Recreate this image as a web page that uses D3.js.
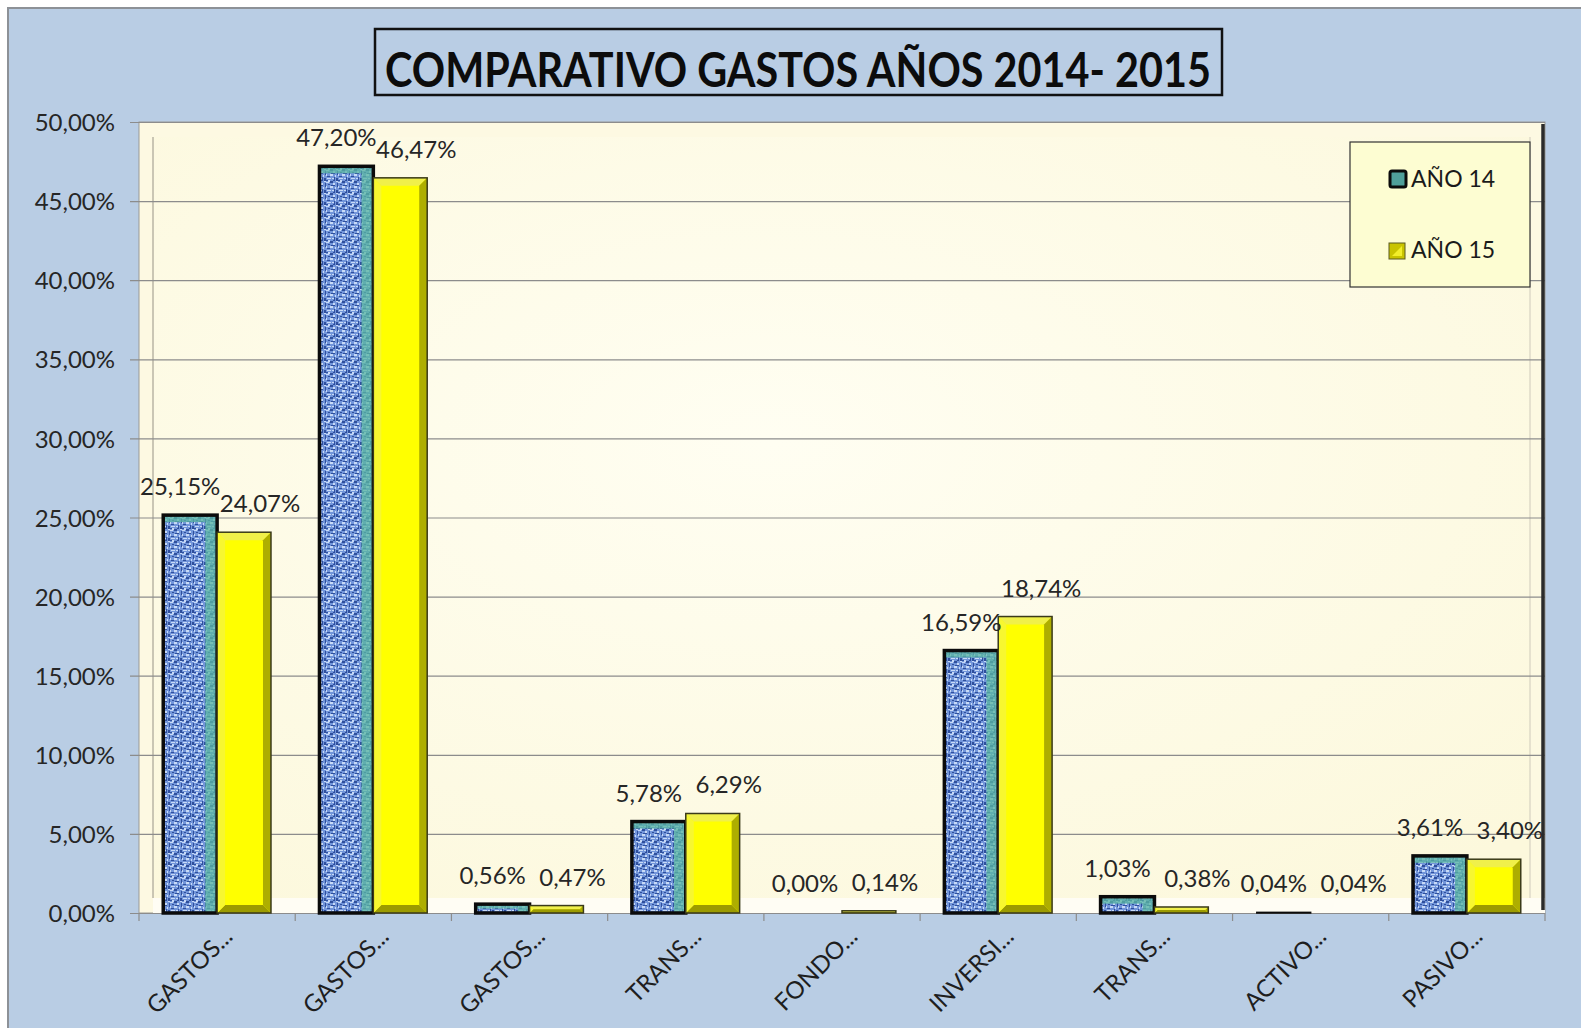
<!DOCTYPE html>
<html>
<head>
<meta charset="utf-8">
<script src="https://cdn.jsdelivr.net/npm/d3@7"></script>
<style>
  html, body { margin: 0; padding: 0; background: #ffffff; }
  svg text { font-family: Lato, "Open Sans", sans-serif; }
</style>
</head>
<body>
<div id="chart"></div>
<script>
// data
const categories = ["GASTOS...", "GASTOS...", "GASTOS...", "TRANS...", "FONDO...", "INVERSI...", "TRANS...", "ACTIVO...", "PASIVO..."];
const seriesNames = ["AÑO 14", "AÑO 15"];
const ano14 = [25.15, 47.20, 0.56, 5.78, 0.00, 16.59, 1.03, 0.04, 3.61];
const ano15 = [24.07, 46.47, 0.47, 6.29, 0.14, 18.74, 0.38, 0.04, 3.40];
const yTicks = [0, 5, 10, 15, 20, 25, 30, 35, 40, 45, 50];
const title = "COMPARATIVO GASTOS AÑOS 2014- 2015";

const W = 1581, H = 1028;
const plot = { left: 139, right: 1545, top: 122, bottom: 913 };

const svg = d3.select("#chart").append("svg")
    .attr("width", W)
    .attr("height", H);

const defs = svg.append("defs");

// blue "cloth" texture for the 2014 bars
const pat = defs.append("pattern")
    .attr("id", "cloth")
    .attr("width", 12).attr("height", 12)
    .attr("patternUnits", "userSpaceOnUse");
pat.append("rect").attr("width", 12).attr("height", 12).attr("fill", "#7295da");
[[0,0,4,1],[6,1,3,2],[1,3,1,4],[7,5,4,1],[3,8,3,1],[0,10,2,2],[10,9,1,3],[4,4,2,1],[9,0,2,1]].forEach(r => {
    pat.append("rect").attr("x", r[0]).attr("y", r[1]).attr("width", r[2]).attr("height", r[3]).attr("fill", "#2f4f9c");
});
[[4,0,2,2],[0,1,2,1],[2,2,3,1],[9,3,2,2],[6,6,3,2],[2,6,1,2],[3,10,4,1],[11,7,1,2],[8,10,2,1]].forEach(r => {
    pat.append("rect").attr("x", r[0]).attr("y", r[1]).attr("width", r[2]).attr("height", r[3]).attr("fill", "#c8daf6");
});

const wallGrad = defs.append("radialGradient")
    .attr("id", "wall").attr("cx", "45%").attr("cy", "40%").attr("r", "75%");
wallGrad.append("stop").attr("offset", "0%").attr("stop-color", "#fffef2");
wallGrad.append("stop").attr("offset", "100%").attr("stop-color", "#fcf8dc");

// chart area background
svg.append("rect")
    .attr("x", 8).attr("y", 8)
    .attr("width", W + 20).attr("height", H + 20)
    .attr("fill", "#b9cde4")
    .attr("stroke", "#8d9197")
    .attr("stroke-width", 2);

// scales
const x = d3.scaleBand()
    .domain(d3.range(categories.length))
    .range([plot.left, plot.right])
    .padding(0);

const xs = d3.scaleBand()
    .domain(seriesNames)
    .range([0, x.step()])
    .paddingInner(0)
    .paddingOuter(0.45);

const y = d3.scaleLinear()
    .domain([0, 50])
    .range([plot.bottom, plot.top]);

// plot area with 3d walls
svg.append("rect")
    .attr("x", plot.left).attr("y", plot.top)
    .attr("width", plot.right - plot.left).attr("height", plot.bottom - plot.top)
    .attr("fill", "#fdf9e2")
    .attr("stroke", "#9a9a96")
    .attr("stroke-width", 1);
svg.append("rect")
    .attr("x", 153).attr("y", 137)
    .attr("width", 1530 - 153).attr("height", 898 - 137)
    .attr("fill", "url(#wall)");
svg.append("rect")
    .attr("x", 153).attr("y", 898)
    .attr("width", plot.right - 153).attr("height", plot.bottom - 898)
    .attr("fill", "#fffdf4");
svg.append("line")
    .attr("x1", 153).attr("x2", 153).attr("y1", 137).attr("y2", 898)
    .attr("stroke", "#b8b4a4").attr("stroke-width", 1.5);
svg.append("line")
    .attr("x1", 1530).attr("x2", 1530).attr("y1", 137).attr("y2", 898)
    .attr("stroke", "#cfcabb").attr("stroke-width", 1);

// y axis + gridlines
const yAxis = svg.append("g")
    .attr("transform", "translate(130,0)")
    .call(d3.axisLeft(y)
        .tickValues(yTicks)
        .tickSize(-(plot.right - 130))
        .tickPadding(15)
        .tickFormat(d => d.toFixed(2).replace(".", ",") + "%"));
yAxis.select(".domain").remove();
yAxis.selectAll(".tick line").attr("stroke", "#8c8c8c").attr("stroke-width", 1.2);
yAxis.selectAll(".tick text")
    .attr("fill", "#262626")
    .attr("font-size", 24)
    .attr("dy", "0.36em");

// dark right edge of the wall
svg.append("line")
    .attr("x1", plot.right - 2).attr("x2", plot.right - 2)
    .attr("y1", plot.top + 2).attr("y2", plot.bottom - 3)
    .attr("stroke", "#2b2b2b").attr("stroke-width", 3.5);

// category tick marks under the floor
svg.append("g").selectAll("line")
    .data(d3.range(categories.length + 1))
    .join("line")
    .attr("x1", i => plot.left + i * x.step())
    .attr("x2", i => plot.left + i * x.step())
    .attr("y1", plot.bottom).attr("y2", plot.bottom + 8)
    .attr("stroke", "#8c8c8c").attr("stroke-width", 1.2);

// bars
const rows = categories.map((c, i) => ({ i, v14: ano14[i], v15: ano15[i] }));

const g14 = svg.append("g");
rows.forEach(r => {
    const bx = x(r.i) + xs("AÑO 14");
    const bw = xs.bandwidth();
    const by = y(r.v14);
    const bh = y(0) - by;
    if (bh < 0.3) return;
    g14.append("rect").attr("x", bx).attr("y", by).attr("width", bw).attr("height", bh)
        .attr("fill", "url(#cloth)");
    const side = Math.min(12, bw * 0.22);
    const topS = Math.min(7, bh * 0.5);
    g14.append("rect").attr("x", bx + bw - side).attr("y", by).attr("width", side).attr("height", bh)
        .attr("fill", "#5bb7a0").attr("opacity", 0.75);
    g14.append("rect").attr("x", bx).attr("y", by).attr("width", bw - side).attr("height", topS)
        .attr("fill", "#5bb7a0").attr("opacity", 0.75);
    g14.append("rect").attr("x", bx).attr("y", by).attr("width", bw).attr("height", bh)
        .attr("fill", "none").attr("stroke", "#0b0b0b").attr("stroke-width", Math.min(3.5, Math.max(1.5, bh)));
});

const g15 = svg.append("g");
rows.forEach(r => {
    const bx = x(r.i) + xs("AÑO 15");
    const bw = xs.bandwidth();
    const by = y(r.v15);
    const bh = y(0) - by;
    if (bh < 0.8) return;
    const b = Math.min(8, bh / 2);
    g15.append("rect").attr("x", bx).attr("y", by).attr("width", bw).attr("height", bh)
        .attr("fill", "#ffff00");
    const pts = [
        [[bx, by], [bx + bw, by], [bx + bw - b, by + b], [bx + b, by + b], "#f0f04a"],
        [[bx + bw, by], [bx + bw, by + bh], [bx + bw - b, by + bh - b], [bx + bw - b, by + b], "#aeae00"],
        [[bx, by + bh], [bx + bw, by + bh], [bx + bw - b, by + bh - b], [bx + b, by + bh - b], "#9c9b00"],
        [[bx, by], [bx + b, by + b], [bx + b, by + bh - b], [bx, by + bh], "#f7f730"]
    ];
    pts.forEach(p => {
        g15.append("polygon")
            .attr("points", p.slice(0, 4).map(q => q.join(",")).join(" "))
            .attr("fill", p[4]);
    });
    g15.append("rect").attr("x", bx).attr("y", by).attr("width", bw).attr("height", bh)
        .attr("fill", "none").attr("stroke", "#3a3a1a").attr("stroke-width", 1.5);
});

// data labels
const fmt = v => v.toFixed(2).replace(".", ",") + "%";
const labelY = v => Math.min(y(v) - 20, plot.bottom - 21);
svg.append("g").selectAll("text")
    .data(rows)
    .join("text")
    .attr("x", r => x(r.i) + xs("AÑO 14") + xs.bandwidth() / 2 - 10)
    .attr("y", r => labelY(r.v14))
    .attr("text-anchor", "middle")
    .attr("font-size", 24)
    .attr("fill", "#262626")
    .text(r => fmt(r.v14));
svg.append("g").selectAll("text")
    .data(rows)
    .join("text")
    .attr("x", r => x(r.i) + xs("AÑO 15") + xs.bandwidth() / 2 + 16)
    .attr("y", r => labelY(r.v15))
    .attr("text-anchor", "middle")
    .attr("font-size", 24)
    .attr("fill", "#262626")
    .text(r => fmt(r.v15));

// category labels, rotated
svg.append("g").selectAll("text")
    .data(rows)
    .join("text")
    .attr("transform", r => "translate(" + (x(r.i) + x.step() / 2 + 17) + "," + 938 + ") rotate(-45)")
    .attr("text-anchor", "end")
    .attr("font-size", 24)
    .attr("fill", "#1e1e1e")
    .text(r => categories[r.i]);

// legend
const lg = svg.append("g");
lg.append("rect")
    .attr("x", 1350).attr("y", 142).attr("width", 180).attr("height", 145)
    .attr("fill", "#fdfdd2").attr("stroke", "#333333").attr("stroke-width", 1.2);
lg.append("rect")
    .attr("x", 1390).attr("y", 171).attr("width", 16).attr("height", 16)
    .attr("fill", "#4f9f9a").attr("stroke", "#0b0b0b").attr("stroke-width", 3).attr("rx", 2);
lg.append("rect")
    .attr("x", 1389).attr("y", 243).attr("width", 16).attr("height", 16)
    .attr("fill", "#c9c400").attr("stroke", "#5a5a20").attr("stroke-width", 1);
lg.append("polygon")
    .attr("points", "1392,256 1402,246 1402,256")
    .attr("fill", "#f2ee2a");
lg.selectAll("text.lab")
    .data(seriesNames)
    .join("text")
    .attr("class", "lab")
    .attr("x", 1411)
    .attr("y", (d, i) => 187 + i * 71)
    .attr("font-size", 23)
    .attr("fill", "#1a1a1a")
    .text(d => d);

// title
svg.append("rect")
    .attr("x", 375).attr("y", 29).attr("width", 847).attr("height", 66)
    .attr("fill", "none").attr("stroke", "#111111").attr("stroke-width", 2.5);
svg.append("text")
    .attr("x", 385).attr("y", 87)
    .attr("font-size", 48)
    .attr("font-weight", "bold")
    .attr("fill", "#0c0c0c")
    .attr("textLength", 826)
    .attr("lengthAdjust", "spacingAndGlyphs")
    .text(title);
</script>
</body>
</html>
